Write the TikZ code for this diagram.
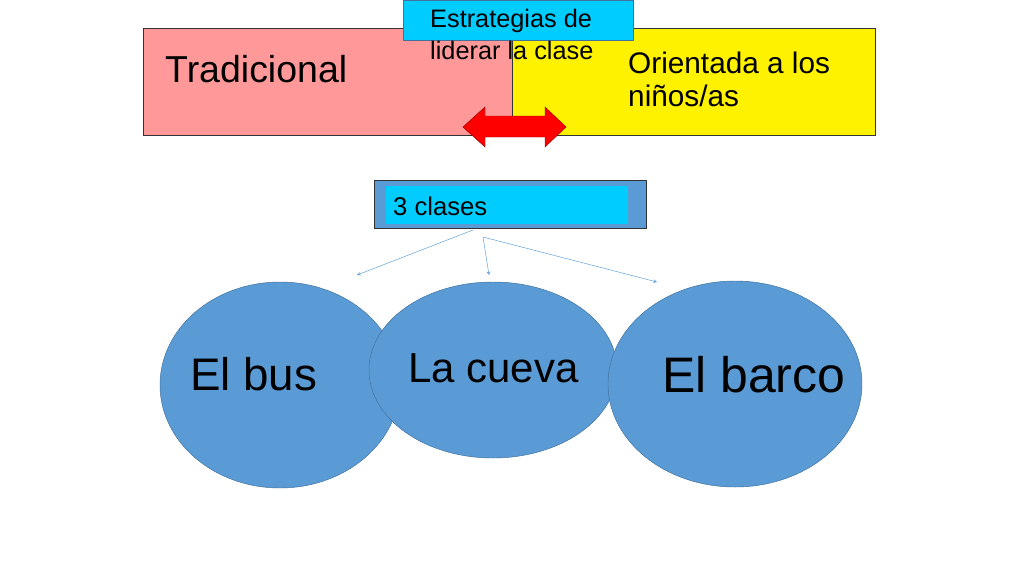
\documentclass[tikz,border=0pt]{standalone}
\usepackage{fontspec}
\setmainfont{Liberation Sans}
\usetikzlibrary{shapes.geometric}
\definecolor{rosa}{HTML}{FF9999}
\definecolor{celeste}{HTML}{00CCFF}
\definecolor{azul}{HTML}{5B9BD5}
\definecolor{azulborde}{HTML}{41719C}
\tikzset{
  caja/.style={draw=black!80, thin},
  clase/.style={ellipse, draw=azulborde, fill=azul, inner sep=0pt},
  texto/.style={anchor=base west, inner sep=0pt},
  flecha/.style={->, >=stealth, azul, thin}
}
\newcommand{\tam}[1]{\fontsize{#1}{#1}\selectfont}
\begin{document}
\begin{tikzpicture}[x=0.03cm,y=-0.03cm]
  \useasboundingbox (0,0) rectangle (1024,576);
  % Bloques superiores
  \draw[caja, fill=rosa] (143,28) rectangle (512,135);
  \draw[caja, fill=yellow] (512,28) rectangle (875,135);
  \node[texto] (trad) at (165,82) {\tam{32pt}Tradicional};
  \node[texto] (ori1) at (628,73) {\tam{25.4pt}Orientada a los};
  \node[texto] (ori2) at (628,106) {\tam{25.4pt}niños/as};

  % Titulo
  \draw[draw=azulborde, fill=celeste] (403,0) rectangle (633,40);
  \node[texto] (est1) at (430,27) {\tam{21.6pt}Estrategias de};
  \node[texto] (est2) at (430,59) {\tam{21.6pt}liderar la clase};

  % Flecha doble
  \draw[fill=red, draw=red!60!black] (463,127) -- (485,107) -- (485,116) -- (545,116)
    -- (545,107) -- (566,127) -- (545,147) -- (545,137) -- (485,137) -- (485,147) -- cycle;

  % Caja 3 clases
  \draw[draw=black!80, fill=azul] (374,180) rectangle (646,228);
  \fill[celeste] (386,186) rectangle (628,224);
  \node[texto] (tres) at (393,215) {\tam{21.9pt}3 clases};

  % Elipses
  \node[clase, minimum width=7.2cm, minimum height=6.18cm] (bus) at (280,385) {};
  \node[clase, minimum width=7.44cm, minimum height=5.28cm] (cueva) at (493,370) {};
  \node[clase, minimum width=7.62cm, minimum height=6.18cm] (barco) at (735,384) {};
  \node[texto] at (190,390) {\tam{39pt}El bus};
  \node[texto] at (408,382) {\tam{35.8pt}La cueva};
  \node[texto] at (662,392) {\tam{42.6pt}El barco};

  % Flechas
  \coordinate (o1) at (473,230);
  \coordinate (o2) at (483,237);
  \coordinate (d1) at (357,275);
  \coordinate (d2) at (489,275);
  \coordinate (d3) at (657,282);
  \draw[flecha] (o1) -- (d1);
  \draw[flecha] (o2) -- (d2);
  \draw[flecha] (o2) -- (d3);
\end{tikzpicture}
\end{document}
